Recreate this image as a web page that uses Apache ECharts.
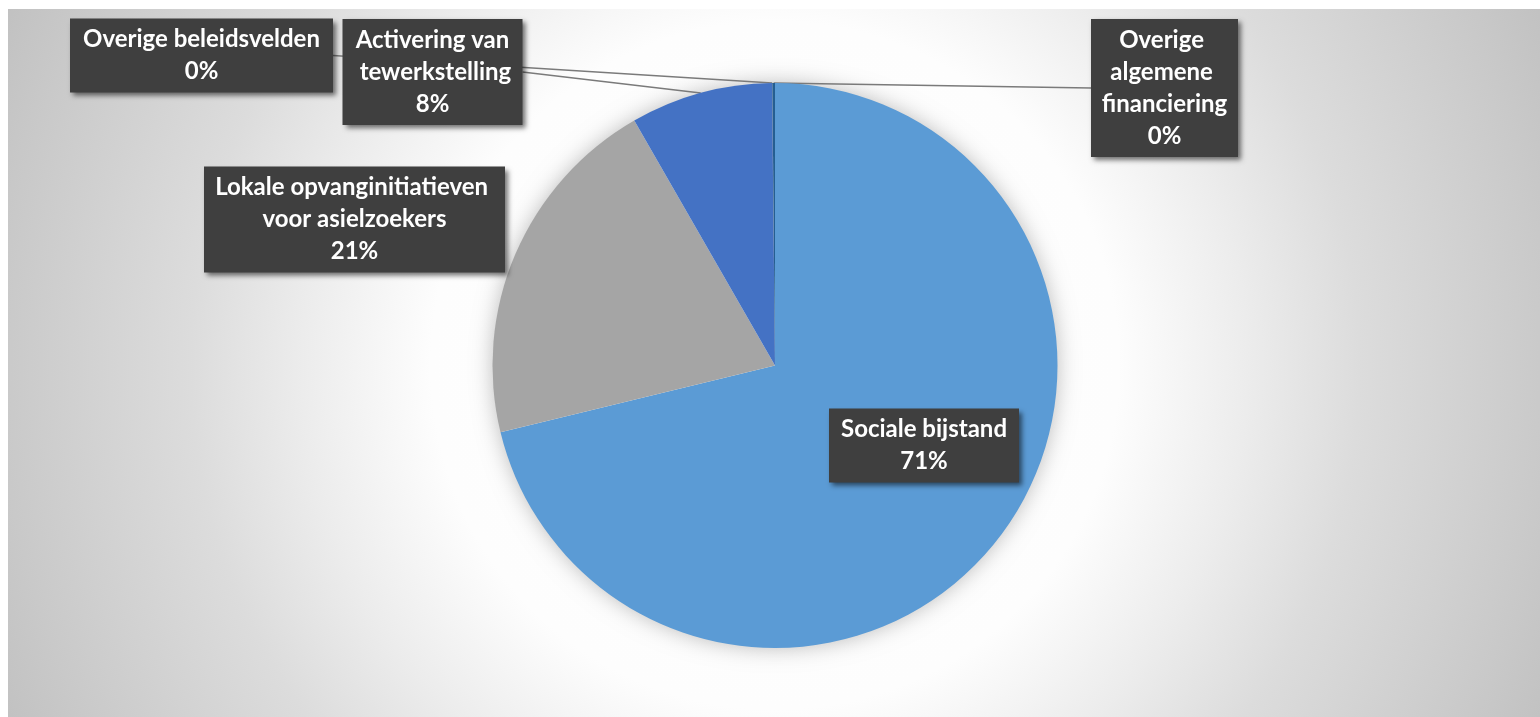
<!DOCTYPE html>
<html>
<head>
<meta charset="utf-8">
<script src="https://cdn.jsdelivr.net/npm/echarts@6/dist/echarts.min.js"></script>
<style>
  html, body { margin: 0; padding: 0; background: #ffffff; }
  #chart { width: 1540px; height: 717px; }
</style>
</head>
<body>
<div id="chart"></div>
<script>
// ---- data ----
const categories = [
  'Sociale bijstand',
  'Lokale opvanginitiatieven voor asielzoekers',
  'Activering van tewerkstelling',
  'Overige beleidsvelden',
  'Overige algemene financiering'
];
const values = [71.2, 20.5, 8.13, 0.02, 0.15];
const colors = ['#5B9BD5', '#A5A5A5', '#4472C4', '#264478', '#255E91'];

// ---- label layout (positions / sizes, not data) ----
const labelBoxes = {
  'Sociale bijstand': { x: 924, y: 445.5, w: 170, side: null },
  'Lokale opvanginitiatieven voor asielzoekers': { x: 354.5, y: 219.5, w: 281, side: null },
  'Activering van tewerkstelling': { x: 432.5, y: 72, w: 160, side: 'right' },
  'Overige beleidsvelden': { x: 201.5, y: 55.5, w: 243, side: 'right' },
  'Overige algemene financiering': { x: 1164.5, y: 88, w: 127, side: 'left' }
};

const chart = echarts.init(document.getElementById('chart'), null, { renderer: 'canvas' });

const pieData = categories.map((name, i) => {
  const box = labelBoxes[name];
  return {
    name: name,
    value: values[i],
    itemStyle: { color: colors[i] },
    label: { width: box.w },
    labelLine: { show: !!box.side }
  };
});

const CX = 775, CY = 365.5, R = 282.5;

const option = {
  animation: false,
  graphic: [{
    type: 'rect',
    z: -10,
    silent: true,
    shape: { x: 8, y: 9, width: 1532, height: 708 },
    style: {
      fill: {
        type: 'radial', x: CX, y: CY, r: 860, global: true,
        colorStops: [
          { offset: 0, color: '#ffffff' },
          { offset: 0.40, color: '#fdfdfd' },
          { offset: 0.55, color: '#ececec' },
          { offset: 0.68, color: '#dcdcdc' },
          { offset: 0.90, color: '#c9c9c9' },
          { offset: 1, color: '#c0c0c0' }
        ]
      }
    }
  }],
  series: [
    {
      // soft shadow under the pie
      type: 'pie',
      silent: true,
      z: 1,
      center: [CX, CY],
      radius: R - 1,
      label: { show: false },
      labelLine: { show: false },
      itemStyle: { color: '#ffffff', shadowBlur: 22, shadowColor: 'rgba(0,0,0,0.28)' },
      data: [{ value: 1 }]
    },
    {
      type: 'pie',
      z: 2,
      center: [CX, CY],
      radius: R,
      startAngle: 90,
      clockwise: true,
      avoidLabelOverlap: false,
      percentPrecision: 0,
      itemStyle: { borderWidth: 0 },
      label: {
        show: true,
        position: 'outside',
        formatter: '{b}\n{d}%',
        color: '#ffffff',
        fontFamily: 'Lato, "Open Sans", sans-serif',
        fontWeight: 'bold',
        fontSize: 24,
        lineHeight: 32,
        align: 'center',
        overflow: 'break',
        backgroundColor: '#3f3f3f',
        padding: [5, 10],
        shadowColor: 'rgba(0,0,0,0.55)',
        shadowBlur: 5,
        shadowOffsetX: 3,
        shadowOffsetY: 3
      },
      labelLine: {
        show: true,
        lineStyle: { color: '#7a7a7a', width: 1.5 }
      },
      labelLayout: function (params) {
        const name = categories[params.dataIndex];
        const box = labelBoxes[name];
        const res = { x: box.x, y: box.y, align: 'center', verticalAlign: 'middle' };
        if (box.side && params.labelLinePoints) {
          const halfW = params.labelRect.width / 2;
          const ax = box.side === 'right' ? box.x + halfW : box.x - halfW;
          const p0 = params.labelLinePoints[0];
          res.labelLinePoints = [p0, [ax, box.y], [ax, box.y]];
        }
        return res;
      },
      data: pieData
    }
  ]
};

chart.setOption(option);
</script>
</body>
</html>
